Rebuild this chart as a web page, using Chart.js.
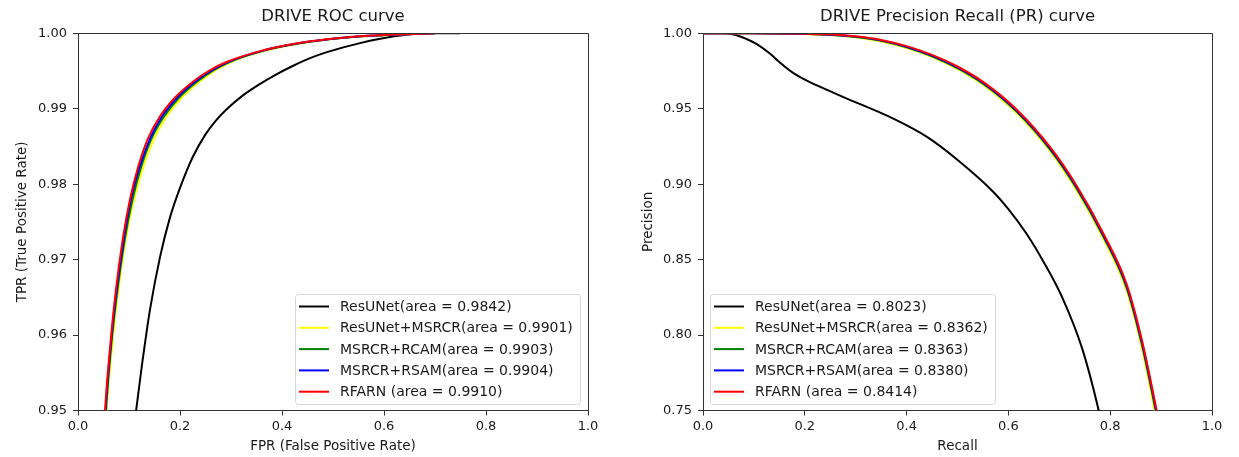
<!DOCTYPE html>
<html>
<head>
<meta charset="utf-8">
<script src="https://cdn.jsdelivr.net/npm/chart.js@4.4.0/dist/chart.umd.min.js"></script>
<style>
body { margin: 0; background: #fff; }
#left_box { position: absolute; left: 0; top: 0; width: 620px; height: 457px; }
#right_box { position: absolute; left: 620px; top: 0; width: 619px; height: 457px; }
</style>
</head>
<body>
<div id="left_box"><canvas id="rocChart"></canvas></div>
<div id="right_box"><canvas id="prChart"></canvas></div>
<script>
// legend names, same order as in the picture
roc_labels = ["ResUNet(area = 0.9842)", "ResUNet+MSRCR(area = 0.9901)", "MSRCR+RCAM(area = 0.9903)", "MSRCR+RSAM(area = 0.9904)", "RFARN (area = 0.9910)"]
pr_labels = ["ResUNet(area = 0.8023)", "ResUNet+MSRCR(area = 0.8362)", "MSRCR+RCAM(area = 0.8363)", "MSRCR+RSAM(area = 0.8380)", "RFARN (area = 0.8414)"]
line_colors = ["#000000", "#ffff00", "#008000", "#0000ff", "#ff0000"]

// ROC
resunet_fpr = [0.112, 0.114, 0.125, 0.141, 0.161, 0.18, 0.2, 0.225, 0.25, 0.27, 0.291, 0.324, 0.357, 0.39, 0.422, 0.455, 0.488, 0.553, 0.62, 0.69, 0.75]
resunet_tpr = [0.949, 0.95, 0.9558, 0.9633, 0.9704, 0.9755, 0.9795, 0.9836, 0.9866, 0.9884, 0.9899, 0.9918, 0.9933, 0.9946, 0.9957, 0.9967, 0.9975, 0.9987, 0.9996, 1.0, 1.0]

// the 4 other models share the tpr levels
roc_tpr = [0.948, 0.95, 0.9585, 0.9658, 0.9728, 0.978, 0.9823, 0.986, 0.9889, 0.99145, 0.99361, 0.99514, 0.99619, 0.99764, 0.99858, 0.99921, 0.9996, 0.99983, 1.0]
msrcr_fpr = [0.0545, 0.056, 0.067, 0.079, 0.094, 0.110, 0.128, 0.149, 0.173, 0.203, 0.239, 0.271, 0.300, 0.364, 0.429, 0.494, 0.559, 0.626, 0.7]
rcam_fpr = [0.0535, 0.055, 0.065, 0.077, 0.092, 0.107, 0.124, 0.144, 0.168, 0.198, 0.234, 0.267, 0.297, 0.361, 0.426, 0.492, 0.557, 0.624, 0.7]
rsam_fpr = [0.0525, 0.054, 0.064, 0.0755, 0.090, 0.104, 0.121, 0.141, 0.164, 0.194, 0.230, 0.264, 0.294, 0.359, 0.424, 0.490, 0.555, 0.622, 0.7]
rfarn_fpr = [0.0515, 0.053, 0.063, 0.074, 0.088, 0.102, 0.118, 0.137, 0.16, 0.19, 0.226, 0.26, 0.291, 0.357, 0.422, 0.488, 0.553, 0.62, 0.7]

// PR curves
resunet_recall = [0, 0.04, 0.05, 0.066, 0.085, 0.105, 0.132, 0.15, 0.164, 0.18, 0.2, 0.225, 0.276, 0.374, 0.44, 0.505, 0.57, 0.6, 0.636, 0.67, 0.707, 0.745, 0.777, 0.785]
resunet_prec = [1.0, 1.0, 0.9998, 0.9987, 0.9963, 0.993, 0.9864, 0.981, 0.977, 0.9731, 0.9693, 0.9653, 0.9577, 0.9434, 0.9313, 0.9147, 0.895, 0.8835, 0.867, 0.848, 0.824, 0.791, 0.7506, 0.738]

pr_recall = [0, 0.1, 0.15, 0.2, 0.243, 0.3, 0.35, 0.4, 0.45, 0.5, 0.551, 0.616, 0.682, 0.734, 0.787, 0.832, 0.862, 0.891, 0.9]
msrcr_prec = [1.0, 1.0, 0.9998, 0.9995, 0.999, 0.9974, 0.9946, 0.9902, 0.9842, 0.9762, 0.9656, 0.9471, 0.9218, 0.8958, 0.8634, 0.8296, 0.7915, 0.743, 0.727]
rcam_prec = [1.0, 1.0, 0.9999, 0.9996, 0.9991, 0.9976, 0.995, 0.9907, 0.9848, 0.9769, 0.9664, 0.9481, 0.9229, 0.8972, 0.865, 0.8316, 0.794, 0.747, 0.731]
rsam_prec = [1.0, 1.0, 0.9999, 0.9996, 0.9992, 0.9978, 0.9953, 0.9911, 0.9852, 0.9774, 0.967, 0.9488, 0.9237, 0.8981, 0.866, 0.8328, 0.7955, 0.7488, 0.733]
rfarn_prec = [1.0, 1.0, 0.9999, 0.9997, 0.9993, 0.998, 0.9956, 0.9915, 0.9857, 0.978, 0.9676, 0.9495, 0.9245, 0.899, 0.867, 0.834, 0.797, 0.7506, 0.735]

roc_x_ticks = [0.0, 0.2, 0.4, 0.6, 0.8, 1.0]
roc_y_ticks = [0.95, 0.96, 0.97, 0.98, 0.99, 1.00]
pr_y_ticks = [0.75, 0.80, 0.85, 0.90, 0.95, 1.00]

font_family = "'DejaVu Sans', sans-serif"
text_color = "#1a1a1a"
axis_color = "#333333"

function to_points(xs, ys){
  return xs.map((x, i) => ({x: x, y: ys[i]}))
}

function make_datasets(labels, xs_list, ys_list){
  return labels.map((label, i) => ({
    label: label,
    data: to_points(xs_list[i], ys_list[i]),
    borderColor: line_colors[i],
    backgroundColor: line_colors[i],
    borderWidth: 2,
    pointRadius: 0,
    fill: false,
    cubicInterpolationMode: "monotone",
    // red on top, black at the bottom
    order: i == 0 ? 5 : 5 - i
  }))
}

// draws top/right spines and the legend box inside the plot
frame_and_legend = {
  id: "frame_and_legend",
  afterDatasetsDraw(chart, args, opts){
    ctx = chart.ctx
    a = chart.chartArea
    ctx.save()
    ctx.font = "14px " + font_family
    let w = 0
    chart.data.datasets.forEach(d => { w = Math.max(w, ctx.measureText(d.label).width) })
    box_w = Math.round(w + 52)
    box_h = 110
    x = opts.side == "right" ? Math.round(a.right - 8 - box_w) : Math.round(a.left + 7)
    y = Math.round(a.bottom - 7 - box_h)
    ctx.fillStyle = "rgba(255,255,255,0.85)"
    ctx.strokeStyle = "#d6d6d6"
    ctx.lineWidth = 1
    ctx.beginPath()
    ctx.roundRect(x + 0.5, y + 0.5, box_w, box_h, 3)
    ctx.fill()
    ctx.stroke()
    chart.data.datasets.forEach((d, i) => {
      ry = y + 12.5 + i * 21.3
      ctx.strokeStyle = d.borderColor
      ctx.lineWidth = 2
      ctx.beginPath()
      ctx.moveTo(x + 4, ry)
      ctx.lineTo(x + 34, ry)
      ctx.stroke()
      ctx.fillStyle = text_color
      ctx.textBaseline = "middle"
      ctx.textAlign = "left"
      ctx.fillText(d.label, x + 45, ry + 1)
    })
    ctx.restore()
  },
  afterDraw(chart){
    ctx = chart.ctx
    a = chart.chartArea
    ctx.save()
    ctx.strokeStyle = axis_color
    ctx.lineWidth = 1
    ctx.beginPath()
    ctx.moveTo(Math.round(a.left), Math.round(a.top) + 0.5)
    ctx.lineTo(Math.round(a.right) + 0.5, Math.round(a.top) + 0.5)
    ctx.lineTo(Math.round(a.right) + 0.5, Math.round(a.bottom))
    ctx.stroke()
    ctx.restore()
  }
}

function make_options(title, x_title, y_title, y_ticks, y_width, title_pad, right_pad, side){
  return {
    responsive: true,
    maintainAspectRatio: false,
    animation: false,
    layout: { padding: { left: 0, right: right_pad, top: 0, bottom: 0 } },
    plugins: {
      legend: { display: false },
      tooltip: { enabled: false },
      title: {
        display: true,
        text: title,
        fullSize: false,
        color: text_color,
        font: { family: font_family, size: 16.5, weight: "normal" },
        padding: { top: 7, bottom: 6.5 }
      },
      frame_and_legend: { side: side }
    },
    scales: {
      x: {
        type: "linear",
        min: 0,
        max: 1,
        afterFit: s => { s.height = 46.5 },
        afterBuildTicks: s => { s.ticks = roc_x_ticks.map(v => ({value: v})) },
        ticks: {
          color: text_color,
          font: { family: font_family, size: 13 },
          padding: 3,
          maxRotation: 0,
          callback: v => v.toFixed(1)
        },
        grid: { drawOnChartArea: false, drawTicks: true, tickLength: 5, color: axis_color },
        border: { display: true, color: axis_color },
        title: {
          display: true,
          text: x_title,
          color: text_color,
          font: { family: font_family, size: 13.5 },
          padding: { top: 0, bottom: 2 }
        }
      },
      y: {
        type: "linear",
        min: y_ticks[0],
        max: y_ticks[y_ticks.length - 1],
        afterFit: s => { s.width = y_width },
        afterBuildTicks: s => { s.ticks = y_ticks.map(v => ({value: v})) },
        ticks: {
          color: text_color,
          font: { family: font_family, size: 13 },
          padding: 6,
          callback: v => v.toFixed(2)
        },
        grid: { drawOnChartArea: false, drawTicks: true, tickLength: 5, color: axis_color },
        border: { display: true, color: axis_color },
        title: {
          display: true,
          text: y_title,
          color: text_color,
          font: { family: font_family, size: 13.5 },
          padding: { top: title_pad, bottom: 0 }
        }
      }
    }
  }
}

rocChart = new Chart(document.getElementById("rocChart"), {
  type: "line",
  data: {
    datasets: make_datasets(roc_labels,
      [resunet_fpr, msrcr_fpr, rcam_fpr, rsam_fpr, rfarn_fpr],
      [resunet_tpr, roc_tpr, roc_tpr, roc_tpr, roc_tpr])
  },
  options: make_options("DRIVE ROC curve", "FPR (False Positive Rate)", "TPR (True Positive Rate)", roc_y_ticks, 78, 14, 32, "right"),
  plugins: [frame_and_legend]
})

prChart = new Chart(document.getElementById("prChart"), {
  type: "line",
  data: {
    datasets: make_datasets(pr_labels,
      [resunet_recall, pr_recall, pr_recall, pr_recall, pr_recall],
      [resunet_prec, msrcr_prec, rcam_prec, rsam_prec, rfarn_prec])
  },
  options: make_options("DRIVE Precision Recall (PR) curve", "Recall", "Precision", pr_y_ticks, 83, 20, 27, "left"),
  plugins: [frame_and_legend]
})
</script>
</body>
</html>
